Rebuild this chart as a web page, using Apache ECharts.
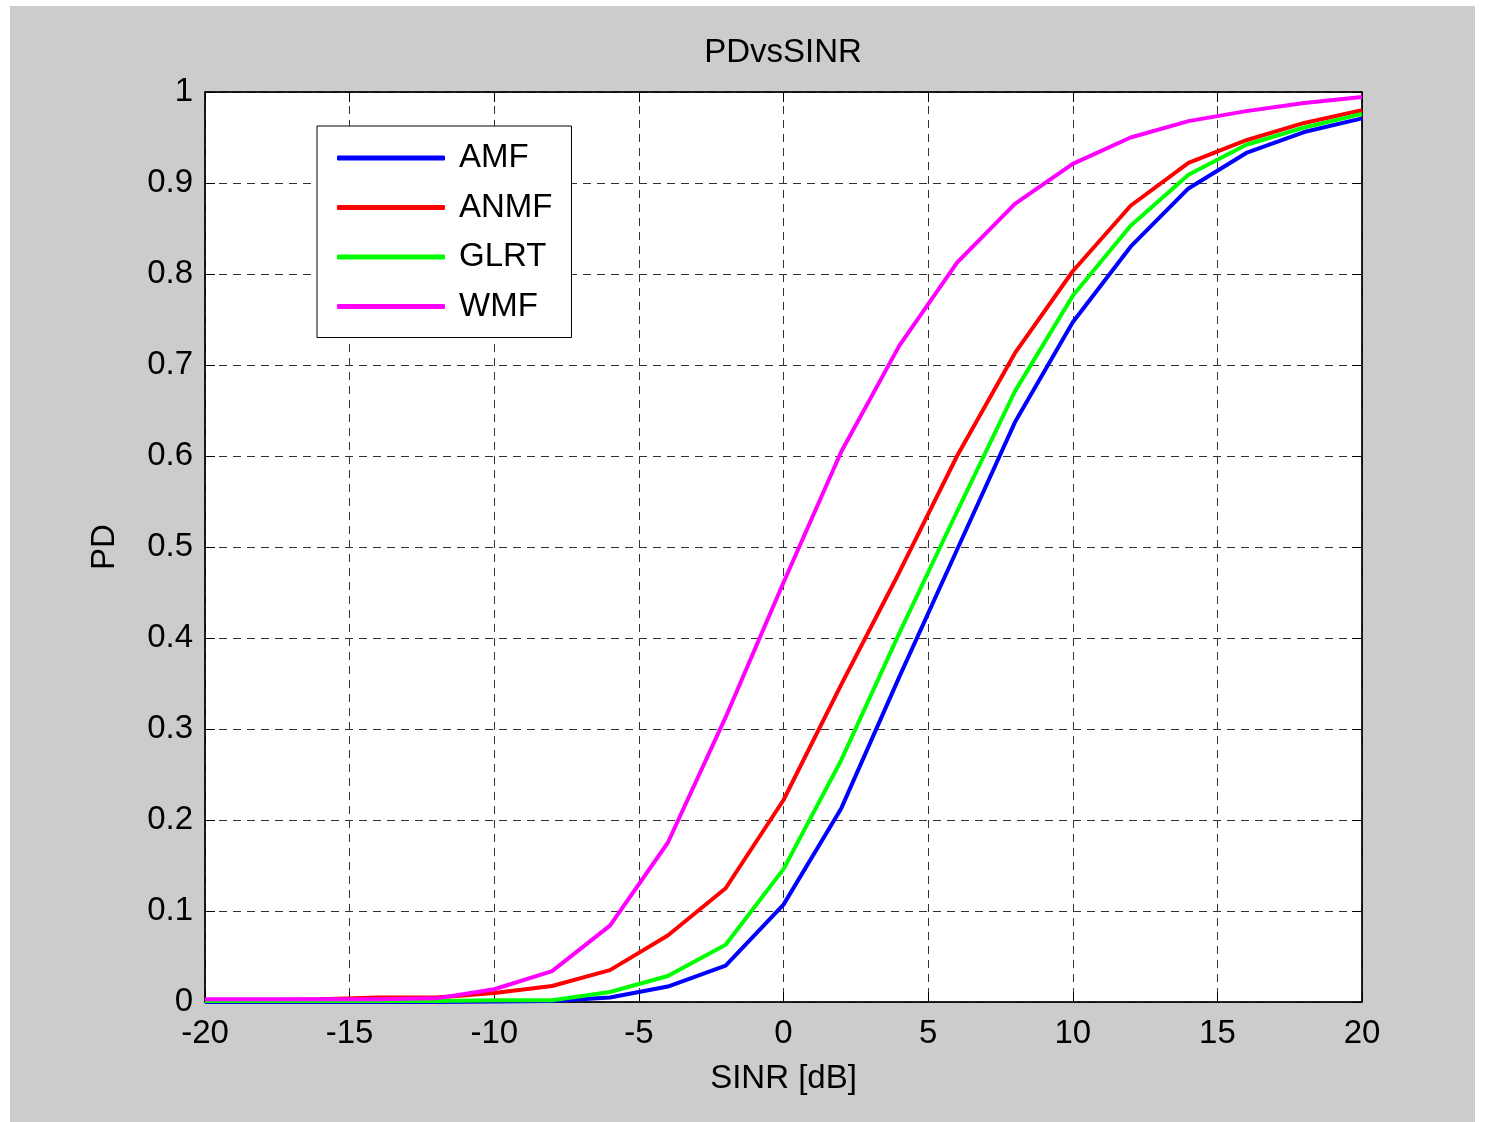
<!DOCTYPE html>
<html>
<head>
<meta charset="utf-8">
<script src="https://cdn.jsdelivr.net/npm/echarts@6/dist/echarts.min.js"></script>
<style>
  html, body { margin: 0; padding: 0; background: #fff; }
  #chart { width: 1486px; height: 1122px; }
</style>
</head>
<body>
<div id="chart"></div>
<script>
// SINR in dB, one point every 2 dB
const sinr = [-20, -18, -16, -14, -12, -10, -8, -6, -4, -2, 0, 2, 4, 6, 8, 10, 12, 14, 16, 18, 20];

// detection probability
const amf = [0, 0, 0, 0, 0, 0.0005, 0.001, 0.005, 0.017, 0.040, 0.107, 0.213, 0.357, 0.497, 0.637, 0.747, 0.830, 0.894, 0.933, 0.956, 0.971];
const anmf = [0.002, 0.002, 0.003, 0.005, 0.005, 0.010, 0.0176, 0.035, 0.073, 0.125, 0.222, 0.349, 0.472, 0.600, 0.713, 0.803, 0.875, 0.922, 0.947, 0.966, 0.980];
const glrt = [0.001, 0.001, 0.001, 0.001, 0.001, 0.002, 0.002, 0.011, 0.0286, 0.063, 0.146, 0.266, 0.405, 0.539, 0.671, 0.776, 0.853, 0.909, 0.942, 0.961, 0.976];
const wmf = [0.003, 0.003, 0.003, 0.003, 0.004, 0.014, 0.034, 0.084, 0.175, 0.313, 0.461, 0.605, 0.721, 0.8125, 0.877, 0.921, 0.950, 0.968, 0.979, 0.988, 0.9945];

const seriesNames = ["AMF", "ANMF", "GLRT", "WMF"];
const seriesColors = ["#0000ff", "#ff0000", "#00ff00", "#ff00ff"];
const seriesValues = [amf, anmf, glrt, wmf];

const xTicks = { min: -20, max: 20, interval: 5 };
const yTicks = { min: 0, max: 1, interval: 0.1 };

const font = "'Liberation Sans', Arial, sans-serif";

const chart = echarts.init(document.getElementById("chart"));

function pairs(values) {
  return sinr.map((x, i) => [x, values[i]]);
}

const gridLine = { show: true, lineStyle: { color: "#333", width: 1, type: [8, 6] } };
const axisLine = { show: true, onZero: false, lineStyle: { color: "#000", width: 1.5 } };
const inTick = { show: true, inside: true, length: 10, lineStyle: { color: "#000" } };

const option = {
  animation: false,
  backgroundColor: "#fff",
  textStyle: { fontFamily: font },
  graphic: [
    {
      type: "rect",
      z: -10,
      shape: { x: 10, y: 6, width: 1465, height: 1116 },
      style: { fill: "#cccccc" },
    },
  ],
  title: {
    text: "PDvsSINR",
    left: 783,
    textAlign: "center",
    top: 36,
    padding: 0,
    textStyle: { fontFamily: font, fontSize: 33, fontWeight: "normal", color: "#000" },
  },
  grid: {
    left: 205,
    top: 92,
    width: 1157,
    height: 910,
    show: true,
    backgroundColor: "#fff",
    borderColor: "#000",
    borderWidth: 1,
  },
  legend: {
    data: seriesNames,
    orient: "vertical",
    left: 317,
    top: 126,
    padding: [14, 19, 13, 20],
    icon: "roundRect",
    itemWidth: 108,
    itemHeight: 5,
    itemGap: 13.5,
    backgroundColor: "#fff",
    borderColor: "#000",
    borderWidth: 1,
    borderRadius: 0,
    textStyle: {
      fontFamily: font,
      fontSize: 33,
      color: "#000",
      lineHeight: 36,
      padding: [0, 0, 0, 9],
    },
  },
  xAxis: [
    {
      type: "value",
      ...xTicks,
      position: "bottom",
      name: "SINR [dB]",
      nameLocation: "middle",
      nameGap: 60,
      nameTextStyle: { fontFamily: font, fontSize: 33, color: "#000" },
      axisLine: axisLine,
      axisTick: inTick,
      axisLabel: { fontFamily: font, fontSize: 33, color: "#000", margin: 15 },
      splitLine: gridLine,
    },
    {
      type: "value",
      ...xTicks,
      position: "top",
      axisLine: axisLine,
      axisTick: inTick,
      axisLabel: { show: false },
      splitLine: { show: false },
    },
  ],
  yAxis: [
    {
      type: "value",
      ...yTicks,
      position: "left",
      name: "PD",
      nameLocation: "middle",
      nameGap: 84,
      nameTextStyle: { fontFamily: font, fontSize: 33, color: "#000" },
      axisLine: axisLine,
      axisTick: inTick,
      axisLabel: { fontFamily: font, fontSize: 33, color: "#000", margin: 12 },
      splitLine: gridLine,
    },
    {
      type: "value",
      ...yTicks,
      position: "right",
      axisLine: axisLine,
      axisTick: inTick,
      axisLabel: { show: false },
      splitLine: { show: false },
    },
  ],
  series: seriesNames.map((name, i) => ({
    name: name,
    type: "line",
    xAxisIndex: 0,
    yAxisIndex: 0,
    symbol: "none",
    smooth: false,
    color: seriesColors[i],
    lineStyle: { width: 4, color: seriesColors[i] },
    data: pairs(seriesValues[i]),
  })),
};

chart.setOption(option);
</script>
</body>
</html>
